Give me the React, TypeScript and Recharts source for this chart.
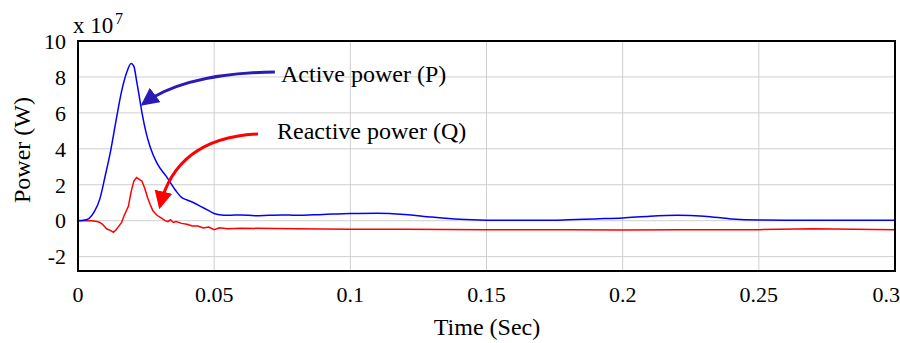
import React from 'react';
import { LineChart, Line, XAxis, YAxis, CartesianGrid } from 'recharts';

// time (s) and power (x 10^7 W)
const timeP = [0, 0.002, 0.004, 0.006, 0.008, 0.01, 0.012, 0.014, 0.016, 0.018, 0.0195, 0.0205, 0.0215, 0.0225, 0.0235, 0.025, 0.0265, 0.029, 0.0325, 0.036, 0.038, 0.04, 0.0425, 0.045, 0.0475, 0.05, 0.052, 0.055, 0.06, 0.065, 0.07, 0.075, 0.08, 0.09, 0.1, 0.11, 0.12, 0.13, 0.14, 0.15, 0.16, 0.17, 0.18, 0.19, 0.2, 0.21, 0.22, 0.23, 0.24, 0.25, 0.26, 0.28, 0.3];
const powerP = [0, 0.02, 0.12, 0.5, 1.2, 2.5, 3.9, 5.6, 7.2, 8.3, 8.75, 8.6, 7.8, 6.9, 6.0, 4.9, 4.1, 3.2, 2.45, 1.65, 1.3, 1.15, 1.0, 0.8, 0.6, 0.4, 0.33, 0.3, 0.32, 0.28, 0.3, 0.32, 0.3, 0.35, 0.4, 0.42, 0.35, 0.2, 0.08, 0.03, 0.02, 0.02, 0.05, 0.1, 0.15, 0.25, 0.3, 0.25, 0.1, 0.04, 0.03, 0.03, 0.03];

const timeQ = [0, 0.005, 0.007, 0.008, 0.009, 0.0105, 0.012, 0.013, 0.014, 0.015, 0.016, 0.017, 0.0185, 0.0195, 0.0205, 0.0215, 0.0225, 0.0235, 0.0245, 0.0255, 0.0265, 0.0275, 0.029, 0.0305, 0.032, 0.033, 0.034, 0.035, 0.036, 0.038, 0.04, 0.042, 0.044, 0.046, 0.048, 0.05, 0.052, 0.055, 0.06, 0.08, 0.1, 0.12, 0.15, 0.18, 0.2, 0.22, 0.25, 0.27, 0.3];
const powerQ = [0, 0, -0.05, -0.1, -0.2, -0.45, -0.55, -0.65, -0.5, -0.3, -0.1, 0.3, 0.8, 1.6, 2.2, 2.4, 2.3, 2.2, 1.8, 1.3, 0.9, 0.55, 0.3, 0.15, 0.0, -0.05, 0.05, -0.1, -0.05, -0.15, -0.2, -0.3, -0.3, -0.4, -0.35, -0.5, -0.4, -0.45, -0.42, -0.45, -0.48, -0.47, -0.5, -0.5, -0.52, -0.5, -0.5, -0.45, -0.5];

const xTicks = [0, 0.05, 0.1, 0.15, 0.2, 0.25, 0.3];
const yTicks = [-2, 0, 2, 4, 6, 8, 10];

// annotation anchors in data units: [t, value]
const arrowP = { from: [0.0723, 8.28], ctrl: [0.039, 8.2], to: [0.0239, 6.5] };
const arrowQ = { from: [0.0661, 4.83], ctrl: [0.036, 4.6], to: [0.0301, 0.8] };

const W = 900;
const H = 343;
const plot = { left: 78, top: 41, width: 817, height: 230 };
const xDomain = [0, 0.3];
const yDomain = [-2.8, 10];
const font = '"Liberation Serif", "Times New Roman", serif';

const sx = (t: number) => plot.left + ((t - xDomain[0]) / (xDomain[1] - xDomain[0])) * plot.width;
const sy = (v: number) => plot.top + ((yDomain[1] - v) / (yDomain[1] - yDomain[0])) * plot.height;

const curve = (a: { from: number[]; ctrl: number[]; to: number[] }) =>
  `M${sx(a.from[0])},${sy(a.from[1])} Q${sx(a.ctrl[0])},${sy(a.ctrl[1])} ${sx(a.to[0])},${sy(a.to[1])}`;

const App = () => {
  const dataP = timeP.map((t, i) => ({ t, v: powerP[i] }));
  const dataQ = timeQ.map((t, i) => ({ t, v: powerQ[i] }));

  return (
    <div style={{ position: 'absolute', left: 0, top: 0, width: W, height: H, background: '#fff', fontFamily: font }}>
      <LineChart width={W} height={H} margin={{ top: plot.top, right: W - plot.left - plot.width, bottom: 22, left: 18 }}>
        <CartesianGrid stroke="#cfcfcf" strokeWidth={1} />
        <XAxis
          type="number"
          dataKey="t"
          domain={xDomain}
          ticks={xTicks}
          allowDataOverflow
          height={50}
          axisLine={false}
          tickLine={false}
          tick={{ fill: '#000', fontSize: 22, fontFamily: font }}
          tickMargin={9}
        />
        <YAxis
          type="number"
          dataKey="v"
          domain={yDomain}
          ticks={yTicks}
          allowDataOverflow
          width={60}
          axisLine={false}
          tickLine={false}
          tick={{ fill: '#000', fontSize: 22, fontFamily: font }}
          tickMargin={6}
        />
        <Line data={dataQ} dataKey="v" stroke="#ff0000" strokeWidth={1.5} dot={false} isAnimationActive={false} type="linear" />
        <Line data={dataP} dataKey="v" stroke="#0000ff" strokeWidth={1.5} dot={false} isAnimationActive={false} type="monotone" />
      </LineChart>
      <svg width={W} height={H} style={{ position: 'absolute', left: 0, top: 0, pointerEvents: 'none' }}>
        <defs>
          <marker id="headP" markerWidth="6" markerHeight="6" refX="5" refY="3" orient="auto" markerUnits="strokeWidth">
            <path d="M0,0 L6,3 L0,6 Z" fill="#2a1bb5" />
          </marker>
          <marker id="headQ" markerWidth="6" markerHeight="6" refX="5" refY="3" orient="auto" markerUnits="strokeWidth">
            <path d="M0,0 L6,3 L0,6 Z" fill="#ff0000" />
          </marker>
        </defs>
        <rect x={plot.left} y={plot.top} width={plot.width} height={plot.height} fill="none" stroke="#000" strokeWidth={2} />
        <path d={curve(arrowP)} fill="none" stroke="#2a1bb5" strokeWidth={3} markerEnd="url(#headP)" />
        <path d={curve(arrowQ)} fill="none" stroke="#ff0000" strokeWidth={3} markerEnd="url(#headQ)" />
        <text x={281} y={82} fontSize={24} fontFamily={font} fill="#000">Active power (P)</text>
        <text x={277} y={139} fontSize={24} fontFamily={font} fill="#000">Reactive power (Q)</text>
        <text x={73} y={33} fontSize={23} fontFamily={font} fill="#000">x 10</text>
        <text x={115} y={24} fontSize={16} fontFamily={font} fill="#000">7</text>
        <text x={487} y={335} fontSize={24} fontFamily={font} fill="#000" textAnchor="middle">Time (Sec)</text>
        <text x={0} y={0} fontSize={24} fontFamily={font} fill="#000" textAnchor="middle" transform="translate(30,150) rotate(-90)">Power (W)</text>
      </svg>
    </div>
  );
};

export default App;
